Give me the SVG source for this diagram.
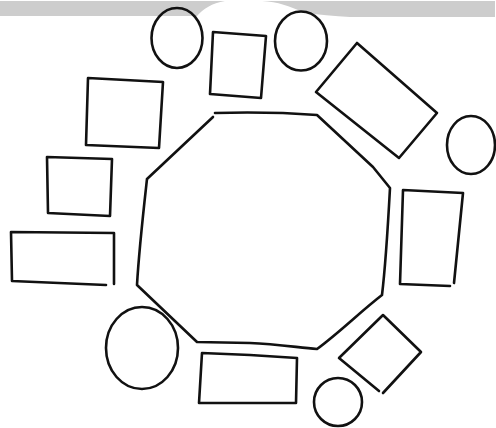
<svg xmlns="http://www.w3.org/2000/svg" width="496" height="428" viewBox="0 0 496 428">
<style>
.s{fill:none;stroke:#111;stroke-width:2.6;stroke-linejoin:round;stroke-linecap:round}
.wm{fill:#cdcdcd;stroke:none}
</style>
<rect width="496" height="428" fill="#fff"/>
<path class="wm" d="M0,1 H495 V17 H350 C335,16 318,15 302,12 C290,6 278,2 262,1 L225,1 C212,3 203,9 197,16 H0 Z"/>
<g id="connectors"/>
<g id="octagon"><path class="s" d="M215,113 C250,112 290,113 317,115 L373,167 L390,188 C388,225 386,262 382,295 C360,312 340,332 317,349 C295,347 275,344 250,343 L197,342 L137,285 C139,250 143,215 147,179 L213,117"/></g>
<g id="circle-top-left"><ellipse class="s" cx="177" cy="38" rx="25.5" ry="30"/></g>
<g id="square-top"><path class="s" d="M213,32 L266,36 L261,98 L210,94 Z"/></g>
<g id="circle-top-right"><ellipse class="s" cx="301" cy="41" rx="26" ry="29.5"/></g>
<g id="rect-tilted"><path class="s" d="M357,43 L437,113 L399,158 L316,92 Z"/></g>
<g id="circle-right"><ellipse class="s" cx="471" cy="145" rx="24" ry="29"/></g>
<g id="square-left-upper"><path class="s" d="M88,78 L163,82 L159,148 L86,145 Z"/></g>
<g id="rect-left-mid"><path class="s" d="M47,157 L112,159 L110,216 L48,213 Z"/></g>
<g id="rect-left-lower"><path class="s" d="M114,284 L114,233 L11,232 L12,281 L106,285"/></g>
<g id="circle-lower-left"><ellipse class="s" cx="142" cy="348" rx="36" ry="41"/></g>
<g id="rect-bottom"><path class="s" d="M202,353 L250,355 L297,358 L296,403 L199,403 Z"/></g>
<g id="rect-right"><path class="s" d="M403,190 L463,193 L454,283 M450,286 L400,284 L403,190"/></g>
<g id="diamond"><path class="s" d="M379,391 L339,358 L383,315 L421,352 L383,393"/></g>
<g id="circle-bottom"><ellipse class="s" cx="338" cy="402" rx="24" ry="24"/></g>
</svg>
